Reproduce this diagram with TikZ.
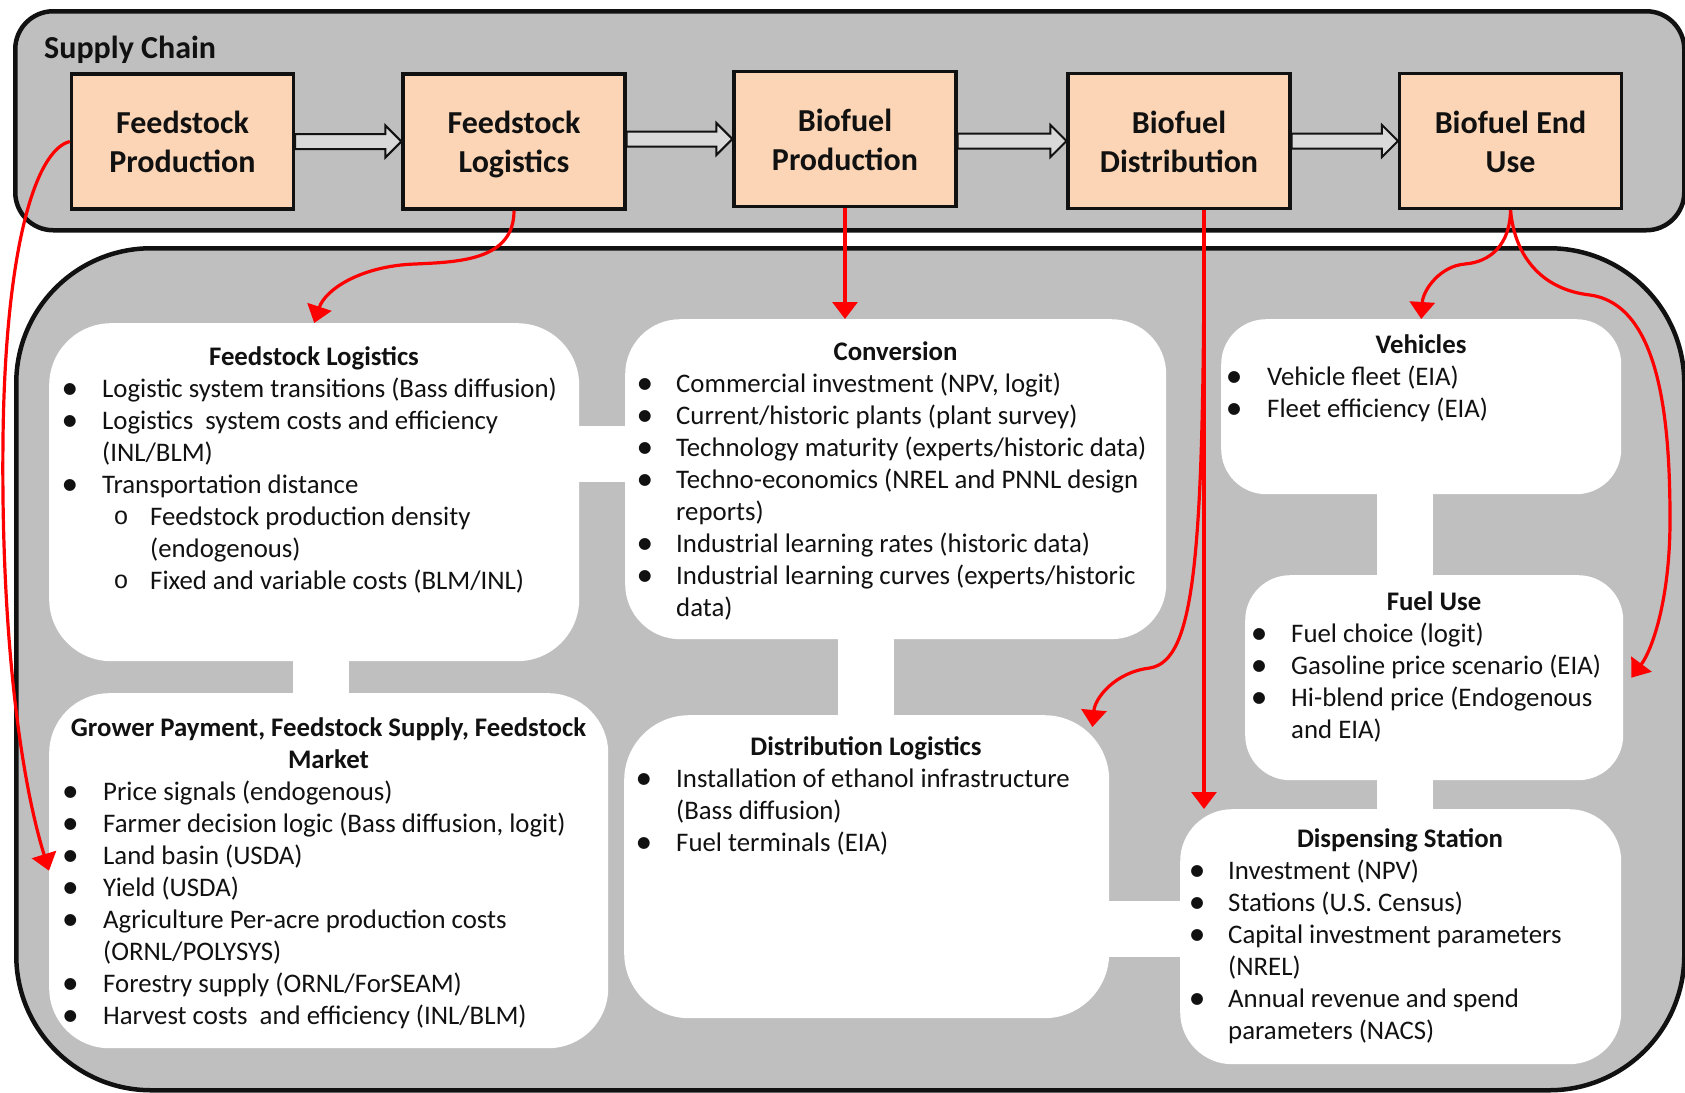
\documentclass[tikz,border=0pt]{standalone}
\usepackage{fontspec}
\setmainfont{Carlito}
\newfontfamily\dejavufam{DejaVu Sans}
\newfontfamily\limonofam{Liberation Mono}
\usetikzlibrary{arrows.meta,calc}
\definecolor{panelgray}{HTML}{BFBFBF}
\definecolor{peach}{HTML}{FBD5B5}
\definecolor{arrowgray}{HTML}{D9D9D9}
\definecolor{ink}{HTML}{111111}
\definecolor{linkred}{HTML}{FF0000}
\newcommand\bodyfont{\fontsize{26.8}{32}\selectfont}
\newcommand\stagefont{\fontsize{32}{39}\selectfont\bfseries}
\newcommand\bsym{{\dejavufam\fontsize{15.5}{16}\selectfont ●}}
\newcommand\osym{{\limonofam\fontsize{25}{26}\selectfont o}}
\tikzset{
  panelbox/.style={draw=ink, line width=4.5pt, fill=panelgray, anchor=north west, inner sep=0},
  stagebox/.style={draw=ink, line width=3.2pt, fill=peach, minimum width=222pt, minimum height=135pt, inner sep=0},
  stagetext/.style={anchor=base, inner sep=0, font=\stagefont, text=ink},
  cardbox/.style={fill=white, anchor=north west, inner sep=0},
  whitebar/.style={draw=white, line width=56pt, shorten <=-8pt, shorten >=-8pt},
  bararrow/.style={draw=ink, line width=2pt, fill=arrowgray, line join=miter},
  redlink/.style={draw=linkred, line width=3.2pt, -{Triangle[length=17pt,width=25pt]}},
  bodytext/.style={anchor=base west, inner sep=0, font=\bodyfont, text=ink},
  titletext/.style={anchor=base, inner sep=0, font=\bodyfont\bfseries, text=ink},
  bulletdot/.style={anchor=center, inner sep=0, text=ink},
}
% name, bullet x, text x, baseline, text
\newcommand\bline[5]{\node[bulletdot] (#1b) at (#2,{#4-8}) {\bsym};\node[bodytext] (#1) at (#3,#4) {#5};}
\newcommand\sline[5]{\node[bulletdot] (#1b) at (#2,{#4-7.5}) {\osym};\node[bodytext] (#1) at (#3,#4) {#5};}
% name, box, first baseline, line 1, line 2
\newcommand\stagelabel[5]{\node[stagetext] (#1a) at ($(#2.center |- 0,#3)$) {#4};\node[stagetext] (#1b) at ($(#2.center |- 0,#3)+(0,39)$) {#5};}
\newcommand\stagearrow[2]{\path[bararrow] ($(#1.east |- #2.west)+(0,-7.5)$) -- ($(#2.west)+(-16,-7.5)$) -- ($(#2.west)+(-16,-16)$) -- (#2.west) -- ($(#2.west)+(-16,16)$) -- ($(#2.west)+(-16,7.5)$) -- ($(#1.east |- #2.west)+(0,7.5)$) -- cycle;}
\begin{document}
\begin{tikzpicture}[x=1pt,y=-1pt]
\useasboundingbox (0,0) rectangle (1685,1092);
% panels
\node[panelbox, rounded corners=38pt, minimum width=1669pt, minimum height=219pt] (supply) at (13,9) {};
\node[panelbox, rounded corners=135pt, minimum width=1668pt, minimum height=842pt] (model) at (14,246) {};
\node[anchor=base west, inner sep=0, font=\fontsize{32}{38}\selectfont\bfseries, text=ink] (sctitle) at (44,58) {Supply Chain};
% stage boxes
\node[stagebox] (fp) at (182.5,141.5) {};
\node[stagebox] (fls) at (514,141.5) {};
\node[stagebox] (bp) at (845,139) {};
\node[stagebox] (bd) at (1179,141) {};
\node[stagebox] (be) at (1510.5,141) {};
\stagelabel{fpt}{fp}{133}{Feedstock}{Production}
\stagelabel{flt}{fls}{133}{Feedstock}{Logistics}
\stagelabel{bpt}{bp}{131}{Biofuel}{Production}
\stagelabel{bdt}{bd}{133}{Biofuel}{Distribution}
\stagelabel{bet}{be}{133}{Biofuel End}{Use}
\stagearrow{fp}{fls}
\stagearrow{fls}{bp}
\stagearrow{bp}{bd}
\stagearrow{bd}{be}
% cards
\node[cardbox, rounded corners=62pt, minimum width=530pt, minimum height=338pt] (fl) at (49,323) {};
\node[cardbox, rounded corners=55pt, minimum width=541pt, minimum height=320pt] (conv) at (625,319) {};
\node[cardbox, rounded corners=45pt, minimum width=400pt, minimum height=175pt] (veh) at (1221,319) {};
\node[cardbox, rounded corners=45pt, minimum width=378pt, minimum height=205pt] (fu) at (1245,575) {};
\node[cardbox, rounded corners=60pt, minimum width=559pt, minimum height=355pt] (gr) at (49,693) {};
\node[cardbox, rounded corners=65pt, minimum width=485pt, minimum height=303pt] (dl) at (624,715) {};
\node[cardbox, rounded corners=52pt, minimum width=441pt, minimum height=255pt] (ds) at (1180,809) {};
% white links
\draw[whitebar] (fl.east |- 0,454) -- (conv.west |- 0,454);
\draw[whitebar] (321,0 |- fl.south) -- (321,0 |- gr.north);
\draw[whitebar] (866,0 |- conv.south) -- (866,0 |- dl.north);
\draw[whitebar] (1405,0 |- veh.south) -- (1405,0 |- fu.north);
\draw[whitebar] (1405,0 |- fu.south) -- (1405,0 |- ds.north);
\draw[whitebar] (dl.east |- 0,928.5) -- (ds.west |- 0,928.5);
% Feedstock Logistics
\node[titletext] (flt) at (314,365) {Feedstock Logistics};
\bline{fl1}{70}{102}{397}{Logistic system transitions (Bass diffusion)}
\bline{fl2}{70}{102}{429}{Logistics\ \ system costs and efficiency}
\node[bodytext] (fl3) at (102,461) {(INL/BLM)};
\bline{fl4}{70}{102}{493}{Transportation distance}
\sline{fl5}{121}{150}{525}{Feedstock production density}
\node[bodytext] (fl6) at (150,557) {(endogenous)};
\sline{fl7}{121}{150}{589}{Fixed and variable costs (BLM/INL)}
% Conversion
\node[titletext] (cvt) at (895.5,360) {Conversion};
\bline{cv1}{645}{676}{392}{Commercial investment (NPV, logit)}
\bline{cv2}{645}{676}{424}{Current/historic plants (plant survey)}
\bline{cv3}{645}{676}{456}{Technology maturity (experts/historic data)}
\bline{cv4}{645}{676}{488}{Techno-economics (NREL and PNNL design}
\node[bodytext] (cv5) at (676,520) {reports)};
\bline{cv6}{645}{676}{552}{Industrial learning rates (historic data)}
\bline{cv7}{645}{676}{584}{Industrial learning curves (experts/historic}
\node[bodytext] (cv8) at (676,616) {data)};
% Vehicles
\node[titletext] (vht) at (1421,353) {Vehicles};
\bline{vh1}{1234}{1267}{385}{Vehicle fleet (EIA)}
\bline{vh2}{1234}{1267}{417}{Fleet efficiency (EIA)}
% Fuel Use
\node[titletext] (fut) at (1434,610) {Fuel Use};
\bline{fu1}{1259}{1291}{642}{Fuel choice (logit)}
\bline{fu2}{1259}{1291}{674}{Gasoline price scenario (EIA)}
\bline{fu3}{1259}{1291}{706}{Hi-blend price (Endogenous}
\node[bodytext] (fu4) at (1291,738) {and EIA)};
% Grower
\node[titletext] (grt1) at (328.5,736) {Grower Payment, Feedstock Supply, Feedstock};
\node[titletext] (grt2) at (328.5,768) {Market};
\bline{gr1}{70.5}{103}{800}{Price signals (endogenous)}
\bline{gr2}{70.5}{103}{832}{Farmer decision logic (Bass diffusion, logit)}
\bline{gr3}{70.5}{103}{864}{Land basin (USDA)}
\bline{gr4}{70.5}{103}{896}{Yield (USDA)}
\bline{gr5}{70.5}{103}{928}{Agriculture Per-acre production costs}
\node[bodytext] (gr6) at (103,960) {(ORNL/POLYSYS)};
\bline{gr7}{70.5}{103}{992}{Forestry supply (ORNL/ForSEAM)}
\bline{gr8}{70.5}{103}{1024}{Harvest costs\ \ and efficiency (INL/BLM)}
% Distribution Logistics
\node[titletext] (dlt) at (866,755) {Distribution Logistics};
\bline{dl1}{644}{676}{787}{Installation of ethanol infrastructure}
\node[bodytext] (dl2) at (676,819) {(Bass diffusion)};
\bline{dl3}{644}{676}{851}{Fuel terminals (EIA)}
% Dispensing Station
\node[titletext] (dst) at (1400,847) {Dispensing Station};
\bline{ds1}{1197}{1228}{879}{Investment (NPV)}
\bline{ds2}{1197}{1228}{911}{Stations (U.S. Census)}
\bline{ds3}{1197}{1228}{943}{Capital investment parameters}
\node[bodytext] (ds4) at (1228,975) {(NREL)};
\bline{ds5}{1197}{1228}{1007}{Annual revenue and spend}
\node[bodytext] (ds6) at (1228,1039) {parameters (NACS)};
% red links
\coordinate (bdout) at ($(bd.south)+(25,0)$);
\draw[redlink] (fp.west) .. controls (35,150) and (5,250) .. (3,440) .. controls (1,620) and (18,770) .. (gr.west);
\draw[redlink] (fls.south) .. controls (514,260) and (460,262) .. (415,264) .. controls (360,266) and (325,290) .. (fl.north);
\draw[redlink] (bp.south) -- (bp.south |- conv.north);
\draw[redlink] (bdout) -- (bdout |- ds.north);
\draw[redlink] (bdout) .. controls (1204,560) and (1195,660) .. (1150,668) .. controls (1115,672) and (1095,698) .. ($(dl.north east)+(-17,12)$);
\draw[redlink] (be.south) .. controls (1510,245) and (1490,262) .. (1465,264) .. controls (1440,266) and (1423,290) .. (veh.north);
\draw[redlink] (be.south) .. controls (1515,260) and (1545,290) .. (1590,295) .. controls (1660,305) and (1670,420) .. (1670,520) .. controls (1670,600) and (1652,650) .. ($(fu.east)+(8,0)$);
\end{tikzpicture}
\end{document}
